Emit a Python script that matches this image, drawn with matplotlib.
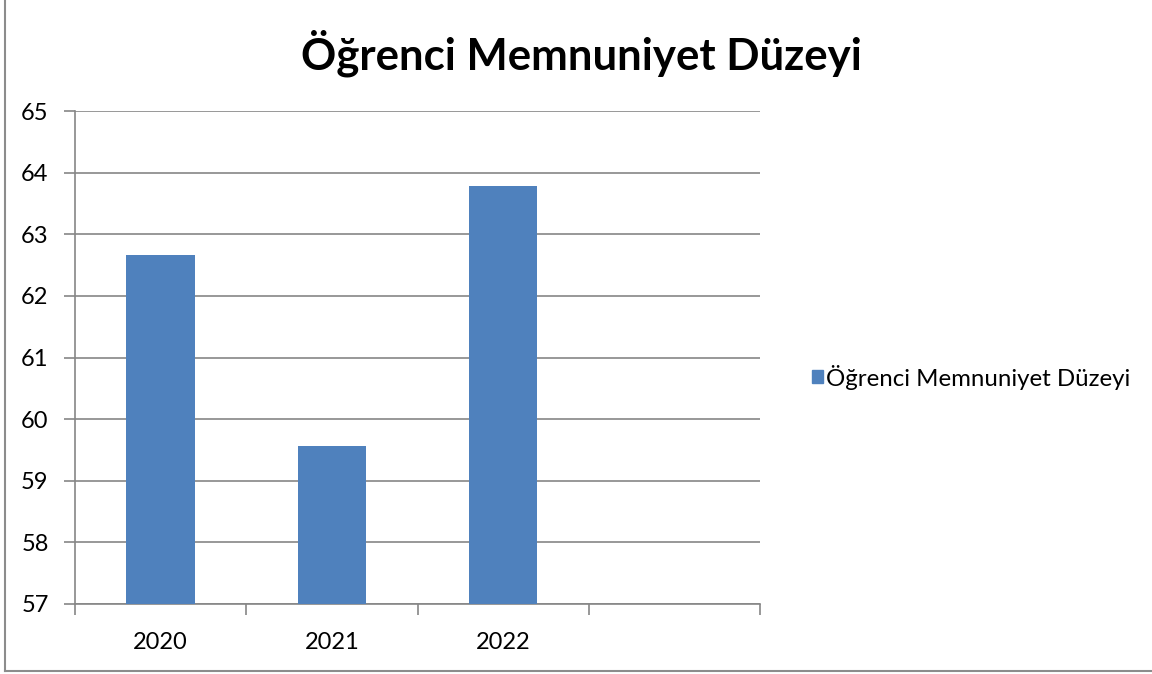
import matplotlib
matplotlib.use("Agg")
import matplotlib.pyplot as plt
from matplotlib.lines import Line2D
from matplotlib.patches import Patch

# --- data ---
years = ["2020", "2021", "2022", ""]
satisfaction = [62.67, 59.56, 63.79]
series_name = "Öğrenci Memnuniyet Düzeyi"

W, H = 1152, 674
BAR_COLOR = "#4F81BD"
GRID_COLOR = "#868686"

plt.rcParams["font.family"] = ["Lato", "DejaVu Sans"]

fig = plt.figure(figsize=(W / 100, H / 100), dpi=100)
ax = fig.add_axes([75 / W, 1 - 604 / H, (760 - 75) / W, (604 - 111) / H])

xs = list(range(len(satisfaction)))
ax.bar(xs, satisfaction, width=0.4, color=BAR_COLOR, zorder=3)

ax.set_xlim(-0.5, len(years) - 0.5)
ax.set_ylim(57, 65)
ax.set_yticks(range(57, 66))
ax.yaxis.grid(True, color=GRID_COLOR, linewidth=1.2, zorder=0)

# category ticks sit between the categories, labels in the middle
ax.set_xticks([i - 0.5 for i in range(len(years) + 1)])
ax.set_xticklabels([])
ax.set_xticks(range(len(years)), labels=years, minor=True)
ax.tick_params(axis="x", which="minor", length=0, pad=20, labelsize=17)
ax.tick_params(axis="x", which="major", length=8, width=1.2, color=GRID_COLOR)
ax.tick_params(axis="y", length=8, width=1.2, color=GRID_COLOR, labelsize=17, pad=11)

for side in ["top", "right"]:
    ax.spines[side].set_visible(False)
for side in ["left", "bottom"]:
    ax.spines[side].set_color(GRID_COLOR)
    ax.spines[side].set_linewidth(1.2)

fig.text(581 / W, 1 - 53 / H, series_name, ha="center", va="center",
         fontsize=31.5, fontweight="bold")

fig.legend(handles=[Patch(color=BAR_COLOR, label=series_name)],
           loc="center left", bbox_to_anchor=(812 / W, 1 - 377 / H),
           frameon=False, fontsize=17.3, handlelength=0.45, handleheight=0.45,
           handletextpad=0.15, borderpad=0, borderaxespad=0)

# chart area border (left and bottom edges visible)
fig.add_artist(Line2D([5 / W, 5 / W], [1 - 671 / H, 1], transform=fig.transFigure,
                      color="#8c8c8c", linewidth=1.5))
fig.add_artist(Line2D([5 / W, 1], [1 - 671 / H, 1 - 671 / H], transform=fig.transFigure,
                      color="#8c8c8c", linewidth=1.5))

fig.savefig("out.png", dpi=100, facecolor="white")
